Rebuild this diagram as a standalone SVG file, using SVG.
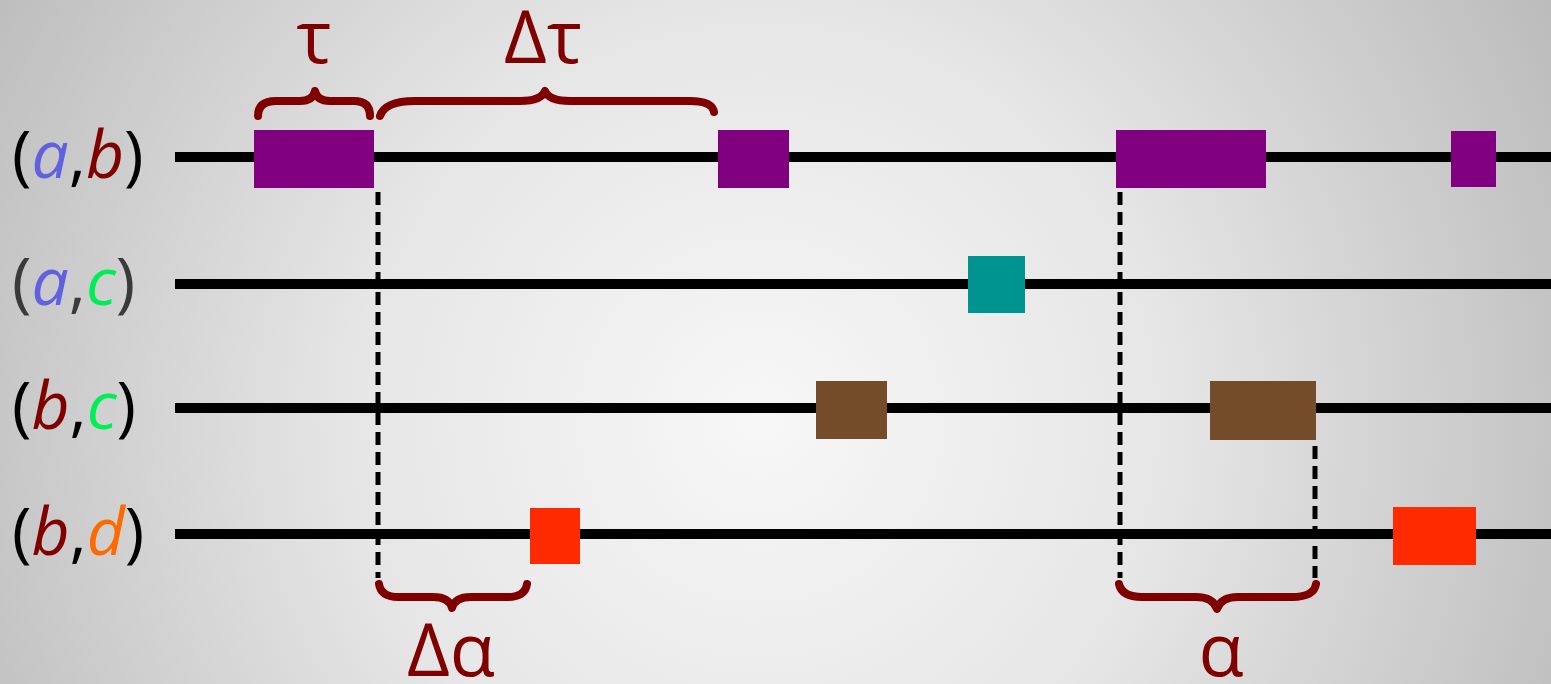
<svg xmlns="http://www.w3.org/2000/svg" width="1551" height="684" viewBox="0 0 1551 684">
  <defs>
    <radialGradient id="bg" gradientUnits="userSpaceOnUse" cx="760" cy="420" r="900">
      <stop offset="0" stop-color="#f7f7f7"/>
      <stop offset="0.45" stop-color="#e6e6e6"/>
      <stop offset="1" stop-color="#bbbbbb"/>
    </radialGradient>
    <style>
      .track { stroke: #000; stroke-width: 10; }
      .guide { stroke: #000; stroke-width: 5; stroke-dasharray: 13 7; fill: none; }
      .brace { stroke: #800000; stroke-width: 8; fill: none; stroke-linecap: round; stroke-linejoin: round; }
      .greek { font-family: "Open Sans", "DejaVu Sans", sans-serif; font-size: 74px; fill: #800000; text-anchor: middle; }
      .pair { font-family: "Open Sans", "DejaVu Sans", sans-serif; font-size: 66px; fill: #000; }
      .pair .v { font-style: italic; }
      .va { fill: #6161e0; }
      .vb { fill: #800000; }
      .vc { fill: #00ee55; }
      .vd { fill: #ff6a00; }
      .ab { fill: #800080; }
      .ac { fill: #009490; }
      .bc { fill: #754c29; }
      .bd { fill: #ff2a00; }
    </style>
  </defs>

  <rect width="1551" height="684" fill="url(#bg)"/>

  <!-- timelines and their labels -->
  <g id="row-ab">
    <line class="track" x1="175" y1="157" x2="1551" y2="157"/>
    <text class="pair" x="12" y="178">(<tspan class="v va">a</tspan>,<tspan class="v vb">b</tspan>)</text>
  </g>
  <g id="row-ac">
    <line class="track" x1="175" y1="284" x2="1551" y2="284"/>
    <text class="pair" x="12" y="305" style="fill:#3a3a3a">(<tspan class="v va">a</tspan>,<tspan class="v vc">c</tspan>)</text>
  </g>
  <g id="row-bc">
    <line class="track" x1="175" y1="408" x2="1551" y2="408"/>
    <text class="pair" x="12" y="429">(<tspan class="v vb">b</tspan>,<tspan class="v vc">c</tspan>)</text>
  </g>
  <g id="row-bd">
    <line class="track" x1="175" y1="534" x2="1551" y2="534"/>
    <text class="pair" x="12" y="555">(<tspan class="v vb">b</tspan>,<tspan class="v vd">d</tspan>)</text>
  </g>

  <!-- dashed guides -->
  <g id="connectors">
    <line class="guide" x1="378" y1="192" x2="378" y2="578"/>
    <line class="guide" x1="1120" y1="192" x2="1120" y2="578"/>
    <line class="guide" x1="1315" y1="446" x2="1315" y2="578"/>
  </g>

  <!-- contact events -->
  <g id="events-ab">
    <rect class="ab" x="254" y="130" width="120" height="58"/>
    <rect class="ab" x="718" y="130" width="71" height="58"/>
    <rect class="ab" x="1116" y="130" width="150" height="58"/>
    <rect class="ab" x="1451" y="131" width="45" height="56"/>
  </g>
  <g id="events-ac">
    <rect class="ac" x="968" y="256" width="57" height="57"/>
  </g>
  <g id="events-bc">
    <rect class="bc" x="816" y="381" width="71" height="58"/>
    <rect class="bc" x="1210" y="381" width="106" height="59"/>
  </g>
  <g id="events-bd">
    <rect class="bd" x="530" y="508" width="50" height="56"/>
    <rect class="bd" x="1393" y="507" width="83" height="58"/>
  </g>

  <!-- braces with labels -->
  <g id="brace-tau">
    <path class="brace" d="M258,116 Q258,101 276,101 L300,101 Q313,101 315,91 Q317,101 330,101 L354,101 Q370,101 370,116"/>
    <text class="greek" x="314" y="63">τ</text>
  </g>
  <g id="brace-delta-tau">
    <path class="brace" d="M380,116 Q385,101 415,101 L520,101 Q541,101 545,91 Q549,101 570,101 L690,101 Q712,101 714,112"/>
    <text class="greek" x="543" y="63">Δτ</text>
  </g>
  <g id="brace-delta-alpha">
    <path class="brace" d="M379,584 Q381,597 398,597 L433,597 Q449,597 452,608 Q455,597 471,597 L508,597 Q525,597 527,584"/>
    <text class="greek" x="451" y="676">Δα</text>
  </g>
  <g id="brace-alpha">
    <path class="brace" d="M1119,584 Q1122,597 1142,597 L1196,597 Q1213,597 1217,609 Q1221,597 1238,597 L1292,597 Q1314,597 1316,584"/>
    <text class="greek" x="1221" y="676">α</text>
  </g>
</svg>
